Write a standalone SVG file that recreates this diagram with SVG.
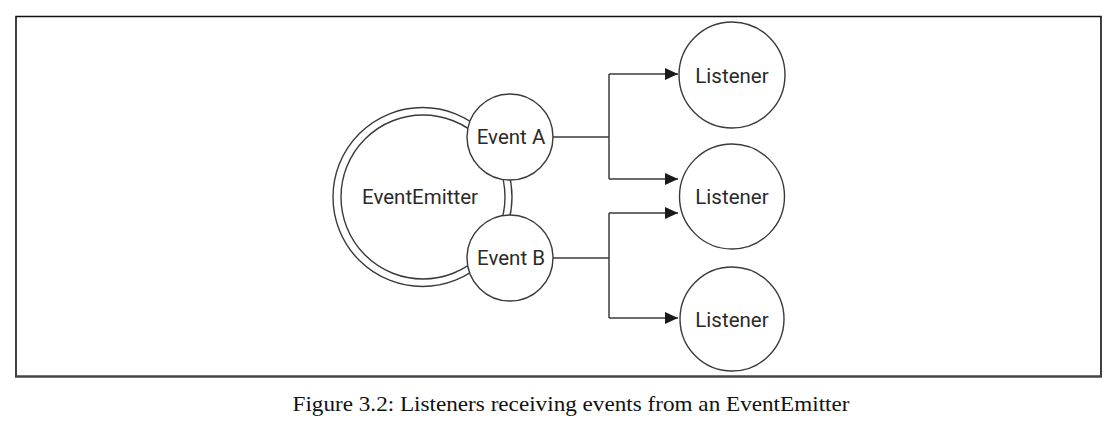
<svg xmlns="http://www.w3.org/2000/svg" width="1120" height="429" viewBox="0 0 1120 429">
<style>
.n{fill:#fff;stroke:#3a3a3a;stroke-width:1.4}
.t{font-family:Roboto,"Liberation Sans",Arial,sans-serif;font-size:20.5px;fill:#2a2a2a;text-anchor:middle;dominant-baseline:central}
.c{fill:none;stroke:#3a3a3a;stroke-width:1.5}
</style>
<defs>
<marker id="ah" markerWidth="14" markerHeight="12" refX="13" refY="6" orient="auto" markerUnits="userSpaceOnUse">
<path d="M0,0 L13,6 L0,12 Z" fill="#1a1a1a"/>
</marker>
</defs>
<rect width="1120" height="429" fill="#fff"/>
<g id="frame">
<path d="M16,377 L16,16.5 L1101,16.5 L1101,377" fill="none" stroke="#111" stroke-width="1.6"/>
<line x1="15" y1="376.5" x2="1102" y2="376.5" stroke="#444" stroke-width="2.4"/>
</g>
<g id="emitter">
<circle class="n" cx="422.5" cy="197" r="89.5"/>
<circle class="n" cx="423" cy="197" r="82"/>
<text class="t" x="420" y="197">EventEmitter</text>
</g>
<g id="connectors">
<path class="c" d="M553,137 L609,137"/>
<path class="c" d="M609,74 L609,179"/>
<path class="c" d="M609,74 L678,74" marker-end="url(#ah)"/>
<path class="c" d="M609,179 L678,179" marker-end="url(#ah)"/>
<path class="c" d="M553,258 L609,258"/>
<path class="c" d="M609,213 L609,318"/>
<path class="c" d="M609,213 L678,213" marker-end="url(#ah)"/>
<path class="c" d="M609,318 L678,318" marker-end="url(#ah)"/>
</g>
<g id="eventA">
<circle class="n" cx="510" cy="137" r="43"/>
<text class="t" x="511" y="137">Event A</text>
</g>
<g id="eventB">
<circle class="n" cx="510" cy="258" r="43"/>
<text class="t" x="511" y="258">Event B</text>
</g>
<g id="listener1">
<circle class="n" cx="732" cy="75" r="53"/>
<text class="t" x="732" y="76">Listener</text>
</g>
<g id="listener2">
<circle class="n" cx="732" cy="196.5" r="52.5"/>
<text class="t" x="732" y="197">Listener</text>
</g>
<g id="listener3">
<circle class="n" cx="732" cy="319" r="52"/>
<text class="t" x="732" y="320">Listener</text>
</g>
<g id="caption">
<text x="571" y="411" font-family="'Liberation Serif','Times New Roman',serif" font-size="21" fill="#111" text-anchor="middle" textLength="557" lengthAdjust="spacingAndGlyphs">Figure 3.2: Listeners receiving events from an EventEmitter</text>
</g>
</svg>
